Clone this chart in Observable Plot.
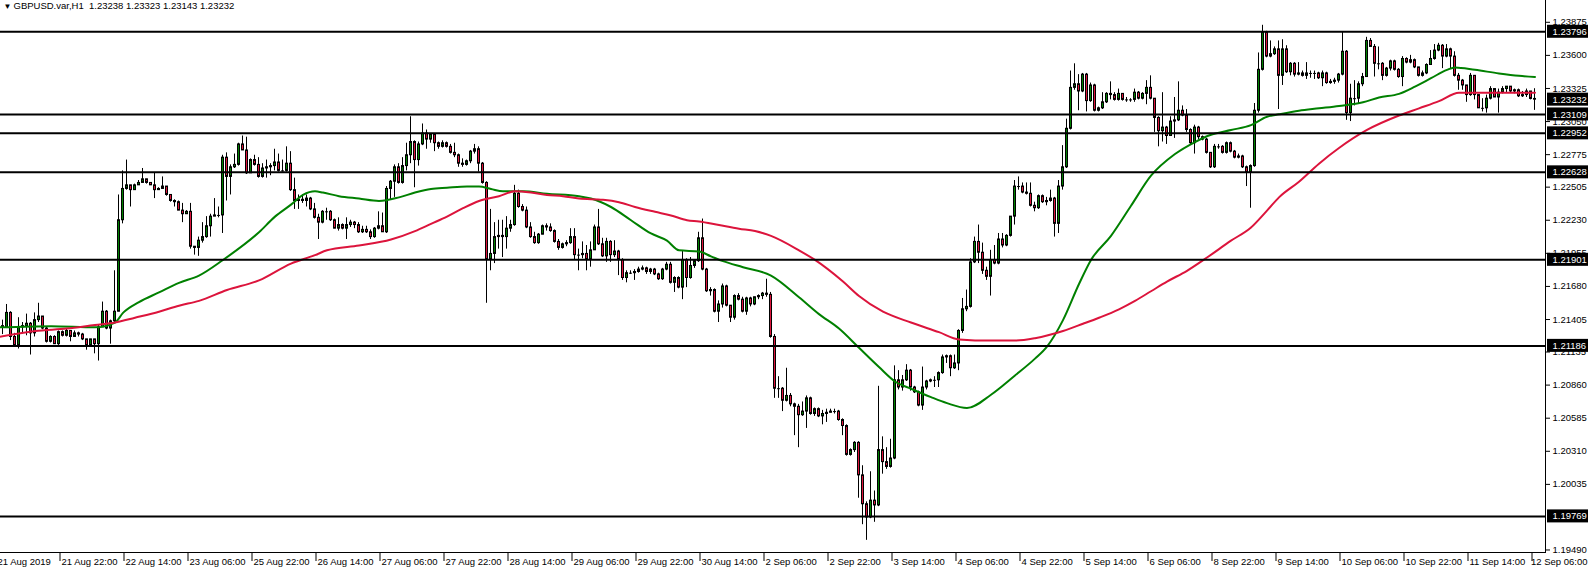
<!DOCTYPE html>
<html><head><meta charset="utf-8">
<script src="https://cdn.jsdelivr.net/npm/d3@7"></script>
<script src="https://cdn.jsdelivr.net/npm/@observablehq/plot@0.6"></script>
<style>html,body{margin:0;padding:0;background:#fff;} #chart svg{display:block;}</style>
</head><body><div id="chart"></div>
<script>
// GBPUSD H1 candles, bar 0 = 21 Aug 2019 06:00 ... bar 384 = 12 Sep 06:00
const firstOpen = 1.2138;
const closes = [
1.2135,1.2134,1.2146,1.2126,1.2119,1.2134,1.2135,1.2137,1.2129,1.2140,
1.2143,1.2133,1.2122,1.2126,1.2120,1.2130,1.2127,1.2131,1.2126,1.2129,
1.2128,1.2124,1.2119,1.2124,1.2120,1.2134,1.2147,1.2133,1.2139,1.2147,
1.2223,1.2249,1.2252,1.2248,1.2252,1.2254,1.2257,1.2254,1.2252,1.2248,
1.2249,1.2251,1.2244,1.2239,1.2238,1.2231,1.2228,1.2230,1.2201,1.2200,
1.2206,1.2209,1.2218,1.2226,1.2227,1.2227,1.2275,1.2259,1.2267,1.2269,
1.2286,1.2281,1.2262,1.2273,1.2269,1.2259,1.2266,1.2267,1.2268,1.2271,
1.2264,1.2264,1.2270,1.2248,1.2239,1.2240,1.2239,1.2241,1.2232,1.2225,
1.2221,1.2230,1.2230,1.2223,1.2216,1.2219,1.2216,1.2219,1.2221,1.2219,
1.2213,1.2215,1.2213,1.2209,1.2216,1.2218,1.2213,1.2249,1.2255,1.2267,
1.2254,1.2268,1.2277,1.2288,1.2273,1.2286,1.2295,1.2290,1.2294,1.2287,
1.2284,1.2287,1.2284,1.2279,1.2277,1.2270,1.2269,1.2272,1.2280,1.2282,
1.2270,1.2254,1.2190,1.2195,1.2209,1.2210,1.2209,1.2216,1.2219,1.2245,
1.2234,1.2231,1.2217,1.2209,1.2204,1.2211,1.2218,1.2217,1.2214,1.2205,
1.2200,1.2203,1.2204,1.2209,1.2194,1.2194,1.2195,1.2190,1.2198,1.2217,
1.2203,1.2193,1.2205,1.2194,1.2197,1.2190,1.2175,1.2179,1.2179,1.2180,
1.2182,1.2183,1.2180,1.2182,1.2178,1.2174,1.2182,1.2186,1.2171,1.2175,
1.2167,1.2190,1.2175,1.2185,1.2189,1.2208,1.2182,1.2164,1.2165,1.2147,
1.2153,1.2168,1.2152,1.2142,1.2160,1.2157,1.2147,1.2158,1.2153,1.2159,
1.2160,1.2162,1.2161,1.2126,1.2083,1.2083,1.2073,1.2077,1.2070,1.2068,
1.2061,1.2064,1.2075,1.2062,1.2066,1.2060,1.2062,1.2063,1.2064,1.2064,
1.2057,1.2052,1.2028,1.2032,1.2038,1.2011,1.1987,1.1976,1.1990,1.1986,
1.2032,1.2022,1.2018,1.2025,1.2090,1.2084,1.2090,1.2098,1.2084,1.2080,
1.2069,1.2084,1.2089,1.2090,1.2090,1.2096,1.2109,1.2110,1.2100,1.2104,
1.2131,1.2149,1.2151,1.2188,1.2205,1.2196,1.2181,1.2176,1.2190,1.2187,
1.2207,1.2202,1.2210,1.2226,1.2251,1.2251,1.2246,1.2245,1.2235,1.2233,
1.2243,1.2238,1.2239,1.2241,1.2220,1.2251,1.2267,1.2299,1.2333,1.2336,
1.2330,1.2344,1.2322,1.2335,1.2314,1.2316,1.2321,1.2328,1.2327,1.2323,
1.2328,1.2323,1.2323,1.2323,1.2329,1.2324,1.2328,1.2333,1.2324,1.2308,
1.2297,1.2300,1.2293,1.2305,1.2306,1.2314,1.2310,1.2298,1.2287,1.2300,
1.2292,1.2290,1.2279,1.2267,1.2284,1.2284,1.2279,1.2287,1.2280,1.2275,
1.2276,1.2267,1.2263,1.2268,1.2314,1.2348,1.2379,1.2359,1.2361,1.2365,
1.2343,1.2365,1.2346,1.2353,1.2344,1.2345,1.2343,1.2345,1.2345,1.2345,
1.2341,1.2345,1.2337,1.2338,1.2339,1.2344,1.2363,1.2312,1.2324,1.2324,
1.2336,1.2342,1.2372,1.2367,1.2353,1.2353,1.2343,1.2349,1.2355,1.2348,
1.2342,1.2357,1.2354,1.2356,1.2350,1.2343,1.2345,1.2352,1.2357,1.2364,
1.2368,1.2359,1.2365,1.2359,1.2343,1.2339,1.2335,1.2327,1.2343,1.2327,
1.2316,1.2316,1.2324,1.2332,1.2325,1.2329,1.2332,1.2334,1.2330,1.2331,
1.2326,1.2327,1.2330,1.23238,1.23232];
const highs = [
1.2145,1.2140,1.2153,1.2147,1.2129,1.2142,1.2138,1.2145,1.2138,1.2146,
1.2154,1.2143,1.2134,1.2127,1.2127,1.2131,1.2131,1.2133,1.2131,1.2131,
1.2130,1.2129,1.2124,1.2124,1.2124,1.2136,1.2155,1.2148,1.2140,1.2181,
1.2244,1.2264,1.2273,1.2252,1.2253,1.2256,1.2266,1.2257,1.2254,1.2262,
1.2250,1.2259,1.2251,1.2244,1.2240,1.2239,1.2237,1.2231,1.2237,1.2201,
1.2209,1.2221,1.2226,1.2228,1.2241,1.2234,1.2277,1.2279,1.2269,1.2278,
1.2287,1.2293,1.2292,1.2274,1.2277,1.2275,1.2270,1.2273,1.2270,1.2282,
1.2278,1.2273,1.2284,1.2280,1.2258,1.2244,1.2244,1.2244,1.2242,1.2237,
1.2228,1.2231,1.2233,1.2231,1.2224,1.2225,1.2220,1.2225,1.2223,1.2222,
1.2221,1.2218,1.2218,1.2215,1.2217,1.2230,1.2229,1.2251,1.2256,1.2269,
1.2270,1.2275,1.2287,1.2309,1.2289,1.2288,1.2303,1.2298,1.2295,1.2295,
1.2288,1.2289,1.2288,1.2286,1.2287,1.2278,1.2274,1.2273,1.2281,1.2286,
1.2284,1.2271,1.2255,1.2232,1.2221,1.2223,1.2223,1.2226,1.2223,1.2252,
1.2248,1.2236,1.2234,1.2221,1.2213,1.2212,1.2219,1.2220,1.2220,1.2215,
1.2207,1.2204,1.2206,1.2216,1.2216,1.2199,1.2205,1.2202,1.2205,1.2219,
1.2232,1.2208,1.2208,1.2206,1.2206,1.2198,1.2191,1.2181,1.2181,1.2182,
1.2184,1.2185,1.2184,1.2183,1.2183,1.2179,1.2183,1.2188,1.2188,1.2176,
1.2176,1.2197,1.2191,1.2192,1.2190,1.2213,1.2224,1.2183,1.2167,1.2166,
1.2156,1.2170,1.2169,1.2152,1.2161,1.2162,1.2159,1.2159,1.2159,1.2159,
1.2161,1.2163,1.2174,1.2163,1.2128,1.2093,1.2084,1.2100,1.2079,1.2071,
1.2070,1.2072,1.2077,1.2076,1.2067,1.2067,1.2065,1.2066,1.2066,1.2066,
1.2065,1.2058,1.2053,1.2033,1.2039,1.2039,1.2019,1.1989,1.2014,1.1998,
1.2085,1.2043,1.2034,1.2041,1.2102,1.2098,1.2094,1.2103,1.2099,1.2085,
1.2081,1.2101,1.2090,1.2091,1.2093,1.2097,1.2111,1.2111,1.2111,1.2111,
1.2132,1.2158,1.2165,1.2191,1.2209,1.2219,1.2204,1.2184,1.2198,1.2202,
1.2212,1.2212,1.2211,1.2226,1.2256,1.2259,1.2254,1.2254,1.2254,1.2238,
1.2244,1.2244,1.2242,1.2248,1.2242,1.2256,1.2285,1.2307,1.2347,1.2353,
1.2344,1.2345,1.2345,1.2337,1.2336,1.2317,1.2329,1.2329,1.2338,1.2329,
1.2332,1.2328,1.2325,1.2324,1.2332,1.2330,1.2329,1.2339,1.2343,1.2324,
1.2309,1.2329,1.2301,1.2309,1.2325,1.2338,1.2318,1.2315,1.2299,1.2302,
1.2301,1.2293,1.2291,1.2278,1.2286,1.2286,1.2285,1.2288,1.2288,1.2281,
1.2278,1.2277,1.2268,1.2269,1.2320,1.2362,1.2385,1.2380,1.2372,1.2367,
1.2372,1.2373,1.2368,1.2354,1.2354,1.2354,1.2347,1.2354,1.2347,1.2347,
1.2346,1.2347,1.2346,1.2340,1.2341,1.2345,1.2379,1.2364,1.2336,1.2339,
1.2338,1.2345,1.2375,1.2374,1.2369,1.2367,1.2354,1.2350,1.2356,1.2356,
1.2349,1.2359,1.2358,1.2360,1.2357,1.2350,1.2347,1.2353,1.2364,1.2369,
1.2370,1.2369,1.2369,1.2366,1.2363,1.2345,1.2340,1.2335,1.2345,1.2343,
1.2327,1.2324,1.2327,1.2334,1.2332,1.2332,1.2334,1.2334,1.2334,1.2332,
1.2332,1.2330,1.2332,1.2330,1.23323];
const lows = [
1.2128,1.2128,1.2133,1.2123,1.2118,1.2116,1.2129,1.2127,1.2111,1.2126,
1.2138,1.2132,1.2121,1.2121,1.2120,1.2119,1.2126,1.2126,1.2122,1.2126,
1.2126,1.2123,1.2115,1.2118,1.2112,1.2106,1.2134,1.2132,1.2120,1.2138,
1.2147,1.2220,1.2248,1.2234,1.2248,1.2252,1.2254,1.2253,1.2252,1.2241,
1.2248,1.2249,1.2243,1.2238,1.2234,1.2231,1.2221,1.2228,1.2199,1.2194,
1.2193,1.2204,1.2208,1.2209,1.2226,1.2225,1.2212,1.2239,1.2244,1.2266,
1.2268,1.2281,1.2261,1.2262,1.2268,1.2258,1.2258,1.2258,1.2260,1.2264,
1.2263,1.2263,1.2263,1.2247,1.2232,1.2232,1.2237,1.2234,1.2231,1.2224,
1.2207,1.2220,1.2223,1.2222,1.2216,1.2214,1.2215,1.2207,1.2217,1.2216,
1.2212,1.2212,1.2212,1.2207,1.2208,1.2215,1.2213,1.2212,1.2240,1.2242,
1.2253,1.2253,1.2264,1.2270,1.2250,1.2268,1.2285,1.2282,1.2287,1.2280,
1.2282,1.2283,1.2283,1.2278,1.2275,1.2267,1.2267,1.2268,1.2270,1.2278,
1.2263,1.2253,1.2154,1.2181,1.2187,1.2199,1.2192,1.2199,1.2213,1.2218,
1.2233,1.2230,1.2216,1.2208,1.2203,1.2203,1.2212,1.2214,1.2213,1.2204,
1.2198,1.2199,1.2201,1.2203,1.2190,1.2181,1.2191,1.2181,1.2184,1.2198,
1.2202,1.2192,1.2188,1.2188,1.2192,1.2177,1.2173,1.2171,1.2178,1.2173,
1.2179,1.2181,1.2178,1.2178,1.2177,1.2173,1.2173,1.2181,1.2170,1.2163,
1.2166,1.2157,1.2167,1.2174,1.2183,1.2188,1.2181,1.2163,1.2160,1.2146,
1.2138,1.2150,1.2151,1.2138,1.2140,1.2156,1.2146,1.2144,1.2151,1.2152,
1.2157,1.2157,1.2159,1.2125,1.2075,1.2075,1.2064,1.2072,1.2068,1.2044,
1.2034,1.2060,1.2050,1.2061,1.2060,1.2059,1.2053,1.2055,1.2063,1.2062,
1.2056,1.2044,1.2027,1.2027,1.2030,1.1992,1.1970,1.1957,1.1975,1.1972,
1.1985,1.2012,1.2016,1.2017,1.2024,1.2082,1.2081,1.2089,1.2081,1.2079,
1.2068,1.2065,1.2082,1.2088,1.2084,1.2084,1.2095,1.2104,1.2093,1.2099,
1.2098,1.2129,1.2147,1.2150,1.2187,1.2187,1.2178,1.2173,1.2160,1.2186,
1.2186,1.2200,1.2201,1.2209,1.2219,1.2248,1.2245,1.2244,1.2234,1.2230,
1.2232,1.2237,1.2235,1.2238,1.2209,1.2212,1.2248,1.2266,1.2298,1.2331,
1.2314,1.2329,1.2313,1.2321,1.2313,1.2313,1.2315,1.2320,1.2323,1.2322,
1.2322,1.2322,1.2321,1.2321,1.2321,1.2323,1.2323,1.2319,1.2323,1.2296,
1.2284,1.2288,1.2286,1.2293,1.2291,1.2305,1.2309,1.2296,1.2286,1.2278,
1.2290,1.2289,1.2278,1.2266,1.2266,1.2282,1.2278,1.2278,1.2279,1.2274,
1.2274,1.2266,1.2251,1.2233,1.2267,1.2312,1.2347,1.2358,1.2358,1.2360,
1.2315,1.2335,1.2345,1.2343,1.2342,1.2343,1.2342,1.2340,1.2341,1.2340,
1.2340,1.2334,1.2336,1.2336,1.2336,1.2337,1.2343,1.2306,1.2305,1.2318,
1.2320,1.2334,1.2342,1.2367,1.2342,1.2348,1.2339,1.2342,1.2347,1.2347,
1.2341,1.2334,1.2353,1.2353,1.2349,1.2342,1.2342,1.2344,1.2352,1.2356,
1.2363,1.2349,1.2358,1.2349,1.2342,1.2331,1.2331,1.2321,1.2326,1.2323,
1.2316,1.2313,1.2312,1.2323,1.2325,1.2312,1.2328,1.2329,1.2329,1.2328,
1.2325,1.2325,1.2325,1.2323,1.23143];

// moving averages (bar index, price)
const greenMaBars = [0,13,24,29,31,35,40,45,50,56,65,69,73,76,79,81,85,90,95,100,104,108,112,117,120,123,126,131,137,145,148,153,158,163,167,170,175,178,181,186,193,200,205,210,215,220,224,228,233,237,242,248,254,259,262,266,270,273,278,283,288,294,299,303,308,313,317,320,325,330,335,341,345,350,354,358,362,364,369,375,380,384];
const greenMaVals = [1.2134,1.2135,1.2134,1.2138,1.2146,1.2155,1.2163,1.2171,1.2177,1.2190,1.2213,1.2226,1.2236,1.2244,1.2247,1.2246,1.2243,1.2241,1.2239,1.2242,1.2246,1.2249,1.2250,1.2251,1.2251,1.2249,1.2247,1.2247,1.2245,1.2243,1.2241,1.2234,1.2223,1.2212,1.2206,1.2198,1.2197,1.2193,1.2189,1.2184,1.2177,1.2159,1.2145,1.2133,1.2117,1.2101,1.2089,1.2083,1.2076,1.2071,1.2067,1.2078,1.2094,1.2108,1.2118,1.2140,1.2170,1.2190,1.2210,1.2235,1.2260,1.2278,1.2288,1.2294,1.2298,1.2302,1.2309,1.2311,1.2314,1.2316,1.2318,1.2321,1.2325,1.2328,1.2334,1.2341,1.2348,1.2350,1.2348,1.2345,1.2343,1.2342];
const redMaBars = [0,9,17,24,29,34,40,45,50,57,65,73,79,82,90,98,104,108,112,116,120,125,129,133,137,141,145,151,155,159,164,168,172,175,180,185,189,193,200,204,211,215,221,228,235,240,248,254,259,266,271,275,280,284,288,292,297,302,308,313,317,320,325,330,335,342,350,355,360,365,368,375,384];
const redMaVals = [1.2126,1.2131,1.2133,1.2136,1.2138,1.2142,1.2147,1.2152,1.2156,1.2165,1.2173,1.2187,1.2194,1.2198,1.2202,1.2207,1.2214,1.2220,1.2226,1.2233,1.2239,1.2243,1.2247,1.2246,1.2244,1.2243,1.2241,1.2240,1.2238,1.2234,1.2230,1.2227,1.2223,1.2222,1.2219,1.2216,1.2214,1.2210,1.2198,1.2190,1.2172,1.2160,1.2147,1.2138,1.2130,1.2124,1.2123,1.2123,1.2125,1.2131,1.2137,1.2142,1.2149,1.2156,1.2164,1.2172,1.2181,1.2192,1.2206,1.2217,1.2231,1.2242,1.2255,1.2270,1.2283,1.2298,1.2310,1.2316,1.2322,1.2329,1.2329,1.2329,1.2329];

const levels = [1.23796,1.23109,1.22952,1.22628,1.21901,1.21186,1.19769];
const priceBoxes = [1.23796,1.23232,1.23109,1.22952,1.22628,1.21901,1.21186,1.19769];
const yTicks = [1.23875,1.23600,1.23325,1.23050,1.22775,1.22505,1.22230,1.21955,1.21680,1.21405,1.21135,1.20860,1.20585,1.20310,1.20035,1.19490];
const xTickBars = [0,16,32,48,64,80,96,112,128,144,160,176,192,208,224,240,256,272,288,304,320,336,352,368,384];
const xTickLabels = ["21 Aug 2019","21 Aug 22:00","22 Aug 14:00","23 Aug 06:00","25 Aug 22:00","26 Aug 14:00","27 Aug 06:00","27 Aug 22:00","28 Aug 14:00","29 Aug 06:00","29 Aug 22:00","30 Aug 14:00","2 Sep 06:00","2 Sep 22:00","3 Sep 14:00","4 Sep 06:00","4 Sep 22:00","5 Sep 14:00","6 Sep 06:00","8 Sep 22:00","9 Sep 14:00","10 Sep 06:00","10 Sep 22:00","11 Sep 14:00","12 Sep 06:00"];
const symbol = "GBPUSD.var,H1";
const lastQuote = ["1.23238","1.23323","1.23143","1.23232"];

const bull = "#008000", bear = "#DC143C";
const bars = closes.map((c, i) => {
  const o = i === 0 ? firstOpen : closes[i - 1];
  return {i, o, c, h: Math.max(highs[i], o, c), l: Math.min(lows[i], o, c)};
});
const isDoji = b => Math.abs(b.c - b.o) < 0.00003;
const greenMa = greenMaBars.map((b, k) => ({b, v: greenMaVals[k]}));
const redMa = redMaBars.map((b, k) => ({b, v: redMaVals[k]}));
const lastTick = xTickBars[xTickBars.length - 1];
const tickLabelOf = new Map(xTickBars.map((b, k) => [b, xTickLabels[k]]));
const ns = "http://www.w3.org/2000/svg";
const fs = 9.5;

const chart = Plot.plot({
  width: 1588, height: 570,
  marginLeft: 0, marginRight: 43, marginTop: 0, marginBottom: 18,
  style: {fontFamily: "'Liberation Sans', Arial, sans-serif", fontSize: fs + "px", background: "#fff", color: "#000", overflow: "visible"},
  x: {type: "linear", domain: [0, 384], range: [-1.5, 1534.5]},
  y: {type: "linear", domain: [1.19469, 1.24056], range: [552, 0]},
  marks: [
    Plot.ruleX(bars, {x: "i", y1: "l", y2: "h", stroke: "#000", strokeWidth: 1, dx: -0.5}),
    Plot.rect(bars.filter(b => !isDoji(b)), {
      x1: d => d.i - 0.375, x2: d => d.i + 0.375, y1: "o", y2: "c",
      fill: d => d.c >= d.o ? bull : bear, stroke: "#000", strokeWidth: 1,
      insetLeft: 0.5, insetRight: 0.5
    }),
    Plot.ruleY(bars.filter(isDoji), {x1: d => d.i - 0.375, x2: d => d.i + 0.375, y: "c", stroke: "#000", strokeWidth: 1}),
    Plot.line(greenMa, {x: "b", y: "v", stroke: "#008000", strokeWidth: 2, curve: "monotone-x"}),
    Plot.line(redMa, {x: "b", y: "v", stroke: "#DC143C", strokeWidth: 2, curve: "monotone-x"}),
    Plot.ruleY(levels, {stroke: "#000", strokeWidth: 2}),
    Plot.frame({anchor: "right", stroke: "#000"}),
    Plot.frame({anchor: "bottom", stroke: "#000"}),
    Plot.axisY({anchor: "right", ticks: yTicks, tickFormat: d => d.toFixed(5), tickSize: 4, tickPadding: 3, label: null, fontSize: fs}),
    // tick marks of the time axis
    Plot.axisX({ticks: xTickBars, tickFormat: () => "", tickSize: 9, dx: -3, label: null}),
    // time labels (the last one is right-aligned to the picture edge, as in the terminal)
    Plot.axisX({ticks: xTickBars.filter(b => b !== lastTick), tickFormat: d => tickLabelOf.get(d), tickSize: 0, tickPadding: 6, textAnchor: "start", dx: -1.5, label: null, fontSize: fs}),
    Plot.text([tickLabelOf.get(lastTick)], {frameAnchor: "bottom-right", dx: 42, dy: 6, textAnchor: "end", lineAnchor: "top", fontSize: fs, fill: "#000"}),
    Plot.text(priceBoxes, {
      y: d => d, text: d => d.toFixed(5), frameAnchor: "right", textAnchor: "start", dx: 7,
      fill: "#fff", fontSize: fs,
      render(index, scales, values, dims, context, next) {
        const g = next(index, scales, values, dims, context);
        const wrap = document.createElementNS(ns, "g");
        const x0 = dims.width - dims.marginRight + 2;
        for (const i of index) {
          const r = document.createElementNS(ns, "rect");
          r.setAttribute("x", x0);
          r.setAttribute("y", values.y[i] - 6.5);
          r.setAttribute("width", dims.marginRight - 2);
          r.setAttribute("height", 13);
          r.setAttribute("fill", "#000");
          wrap.appendChild(r);
        }
        wrap.appendChild(g);
        return wrap;
      }
    }),
    Plot.text(["\u25BC"], {frameAnchor: "top-left", dx: 3, dy: 3, fontSize: 8, textAnchor: "start", lineAnchor: "top", fill: "#000"}),
    Plot.text([symbol + "\u00a0\u00a0" + lastQuote.join(" ")], {frameAnchor: "top-left", dx: 13, dy: 2, fontSize: fs, textAnchor: "start", lineAnchor: "top", fill: "#000"})
  ]
});
document.getElementById("chart").appendChild(chart);
</script>
</body></html>
